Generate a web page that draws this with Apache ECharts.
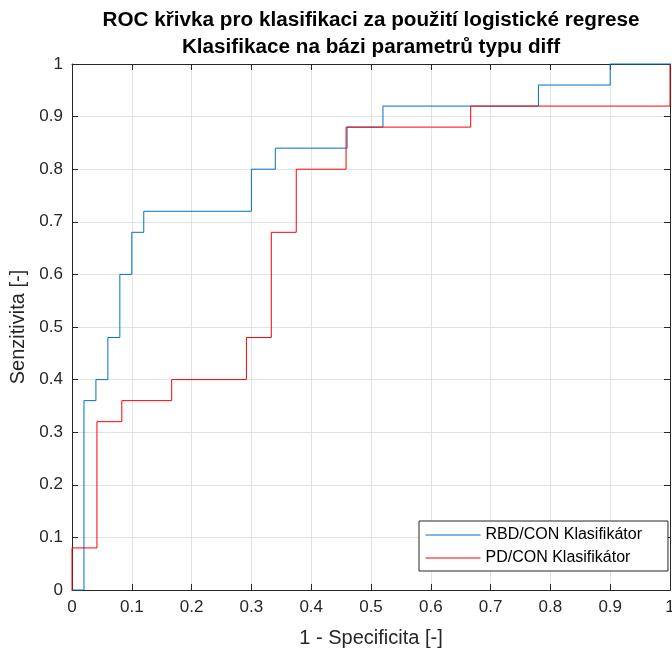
<!DOCTYPE html>
<html>
<head>
<meta charset="utf-8">
<script src="https://cdn.jsdelivr.net/npm/echarts@6/dist/echarts.min.js"></script>
<style>
  html, body { margin: 0; padding: 0; background: #fff; }
  #chart { width: 672px; height: 650px; }
</style>
</head>
<body>
<div id="chart"></div>
<script>
// ROC curve corner points (false positive rate, true positive rate)
const rbdFpr = [0, 0.02, 0.04, 0.06, 0.08, 0.10, 0.12, 0.30, 0.34, 0.46, 0.52, 0.78, 0.90, 1.0];
const rbdTpr = [0, 0.36, 0.40, 0.48, 0.60, 0.68, 0.72, 0.80, 0.84, 0.88, 0.92, 0.96, 1.00, 1.0];

const pdFpr = [0, 0, 0.0417, 0.0833, 0.1667, 0.2917, 0.3333, 0.375, 0.4583, 0.6667, 1.0];
const pdTpr = [0, 0.08, 0.32, 0.36, 0.40, 0.48, 0.68, 0.80, 0.88, 0.92, 1.0];

const seriesNames = ['RBD/CON Klasifikátor', 'PD/CON Klasifikátor'];
const tickLabels = ['0', '0.1', '0.2', '0.3', '0.4', '0.5', '0.6', '0.7', '0.8', '0.9', '1'];

const FONT = '"Liberation Sans", Arial, Helvetica, sans-serif';
const AXIS_COLOR = '#262626';
const GRID_COLOR = '#e3e3e3';

function pairs(xs, ys) {
  return xs.map((x, i) => [x, ys[i]]);
}

function tickFmt(v) {
  const idx = Math.round(v * 10);
  return tickLabels[idx] !== undefined ? tickLabels[idx] : '';
}

function baseAxis() {
  return {
    type: 'value', min: 0, max: 1, interval: 0.1,
    axisLine: { show: true, onZero: false, lineStyle: { color: AXIS_COLOR, width: 1 } },
    axisTick: { show: true, inside: true, length: 6, lineStyle: { color: AXIS_COLOR } },
  };
}

const chart = echarts.init(document.getElementById('chart'), null, { renderer: 'canvas' });
chart.setOption({
  animation: false,
  backgroundColor: '#ffffff',
  title: [
    {
      text: 'ROC křivka pro klasifikaci za použití logistické regrese\nKlasifikace na bázi parametrů typu diff',
      left: 366, top: 2, textAlign: 'center',
      textStyle: { fontFamily: FONT, fontSize: 20.7, fontWeight: 'bold', color: '#000', lineHeight: 27 }
    }
  ],
  grid: { left: 72, right: 2, top: 64, bottom: 60, containLabel: false, outerBoundsMode: 'none' },
  legend: {
    orient: 'vertical',
    left: 419, top: 521,
    padding: [6, 26, 5, 6],
    itemGap: 7,
    itemWidth: 55, itemHeight: 16,
    backgroundColor: '#ffffff',
    borderColor: AXIS_COLOR, borderWidth: 1,
    itemStyle: { opacity: 0, borderWidth: 0 },
    lineStyle: { width: 1 },
    textStyle: { fontFamily: FONT, fontSize: 16, color: '#000' },
    data: seriesNames
  },
  xAxis: [
    Object.assign(baseAxis(), {
      position: 'bottom',
      name: '1 - Specificita [-]', nameLocation: 'middle', nameGap: 38,
      nameTextStyle: { fontFamily: FONT, fontSize: 20, color: AXIS_COLOR },
      axisLabel: { fontFamily: FONT, fontSize: 17, color: AXIS_COLOR, margin: 9, formatter: tickFmt },
      splitLine: { show: true, lineStyle: { color: GRID_COLOR, width: 1 } }
    }),
    Object.assign(baseAxis(), {
      position: 'top',
      axisLabel: { show: false },
      splitLine: { show: false }
    })
  ],
  yAxis: [
    Object.assign(baseAxis(), {
      position: 'left',
      name: 'Senzitivita [-]', nameLocation: 'middle', nameGap: 40, nameRotate: 90,
      nameTextStyle: { fontFamily: FONT, fontSize: 20, color: AXIS_COLOR },
      axisLabel: { fontFamily: FONT, fontSize: 17, color: AXIS_COLOR, margin: 9, formatter: tickFmt },
      splitLine: { show: true, lineStyle: { color: GRID_COLOR, width: 1 } }
    }),
    Object.assign(baseAxis(), {
      position: 'right',
      axisLabel: { show: false },
      splitLine: { show: false }
    })
  ],
  series: [
    {
      name: seriesNames[0], type: 'line', step: 'end',
      data: pairs(rbdFpr, rbdTpr),
      showSymbol: false, symbol: 'none', clip: false,
      lineStyle: { color: '#0072BD', width: 1 },
      itemStyle: { color: '#0072BD' },
      z: 3
    },
    {
      name: seriesNames[1], type: 'line', step: 'end',
      data: pairs(pdFpr, pdTpr),
      showSymbol: false, symbol: 'none', clip: false,
      lineStyle: { color: '#ff0000', width: 1 },
      itemStyle: { color: '#ff0000' },
      z: 4
    }
  ]
});
</script>
</body>
</html>
